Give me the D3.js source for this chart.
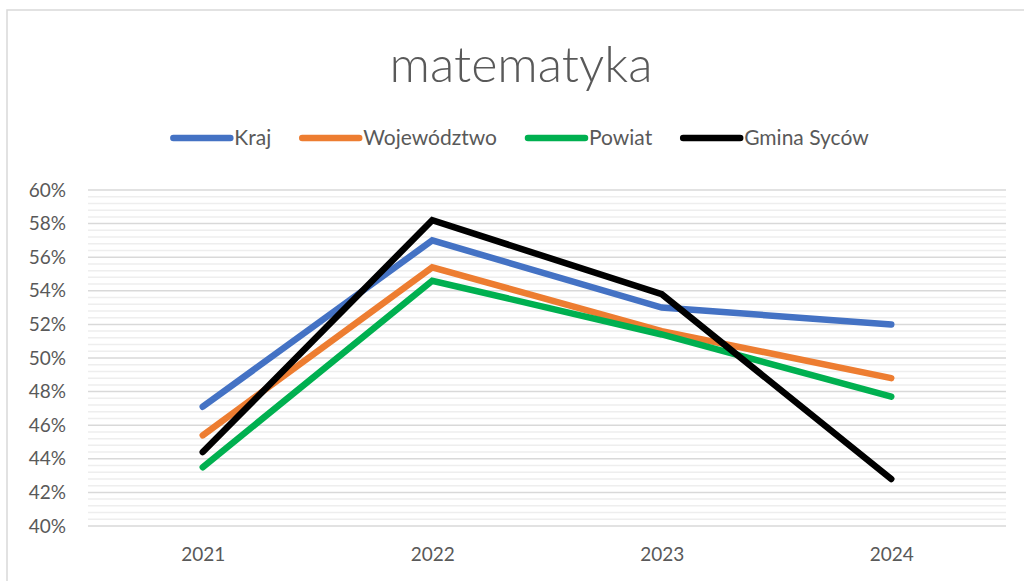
<!DOCTYPE html>
<html>
<head>
<meta charset="utf-8">
<script src="https://cdn.jsdelivr.net/npm/d3@7"></script>
<style>
  html, body { margin: 0; padding: 0; background: #fff; }
  svg { display: block; }
  text { font-family: Lato, "Open Sans", sans-serif; fill: #595959; }
</style>
</head>
<body>
<svg id="chart" width="1024" height="581"></svg>
<script>
// chart data
var years = ["2021", "2022", "2023", "2024"];
var seriesNames = ["Kraj", "Województwo", "Powiat", "Gmina Syców"];
var seriesColors = ["#4472C4", "#ED7D31", "#00B050", "#000000"];
var kraj = [0.471, 0.570, 0.530, 0.520];
var wojewodztwo = [0.454, 0.554, 0.516, 0.488];
var powiat = [0.435, 0.546, 0.514, 0.477];
var gmina = [0.444, 0.582, 0.538, 0.428];
var yTicks = [0.40, 0.42, 0.44, 0.46, 0.48, 0.50, 0.52, 0.54, 0.56, 0.58, 0.60];

var series = [kraj, wojewodztwo, powiat, gmina].map(function(v, i) {
    return { name: seriesNames[i], color: seriesColors[i], values: v };
});

var svg = d3.select("#chart");
var m = { top: 190, right: 18, bottom: 55, left: 88 };
var W = 1024, H = 581;

// outer chart frame (only top and left edges are visible)
svg.append("path")
    .attr("d", "M7," + H + "V10H" + W)
    .attr("fill", "none")
    .attr("stroke", "#d9d9d9")
    .attr("stroke-width", 1.5);

var x = d3.scalePoint().domain(years).range([m.left, W - m.right]).padding(0.5);
var y = d3.scaleLinear().domain([0.40, 0.60]).range([H - m.bottom, m.top]);

// minor grid
var minor = d3.range(0, 51).map(function(i) { return 0.40 + i * 0.004; })
    .filter(function(v) { return Math.round(v * 1000) % 20 !== 0; });
svg.append("g").selectAll("line").data(minor).enter().append("line")
    .attr("x1", m.left).attr("x2", W - m.right)
    .attr("y1", function(d) { return y(d); }).attr("y2", function(d) { return y(d); })
    .attr("stroke", "#eeeeee").attr("stroke-width", 1.5);

// major grid
svg.append("g").selectAll("line").data(yTicks).enter().append("line")
    .attr("x1", m.left).attr("x2", W - m.right)
    .attr("y1", function(d) { return y(d); }).attr("y2", function(d) { return y(d); })
    .attr("stroke", "#d9d9d9").attr("stroke-width", 1.5);

// y axis
var yAxis = svg.append("g").attr("transform", "translate(66,0)")
    .call(d3.axisLeft(y).tickValues(yTicks).tickFormat(d3.format(".0%")).tickSize(0).tickPadding(0));
yAxis.select(".domain").remove();
yAxis.selectAll("text").attr("font-size", 19).attr("font-family", "Lato, sans-serif").attr("fill", "#595959");

// x axis
var xAxis = svg.append("g").attr("transform", "translate(0," + (H - m.bottom) + ")")
    .call(d3.axisBottom(x).tickSize(0).tickPadding(0));
xAxis.select(".domain").remove();
xAxis.selectAll("text").attr("font-size", 19).attr("font-family", "Lato, sans-serif")
    .attr("fill", "#595959").attr("dy", "1.85em");

// lines
var line = d3.line()
    .x(function(d, i) { return x(years[i]); })
    .y(function(d) { return y(d); });

svg.append("g").selectAll("path").data(series).enter().append("path")
    .attr("d", function(d) { return line(d.values); })
    .attr("fill", "none")
    .attr("stroke", function(d) { return d.color; })
    .attr("stroke-width", 6.5)
    .attr("stroke-linecap", "round")
    .attr("stroke-linejoin", "miter");

// title
svg.append("text")
    .attr("x", 521).attr("y", 82)
    .attr("text-anchor", "middle")
    .attr("font-size", 50)
    .attr("font-weight", 300)
    .attr("textLength", 263)
    .attr("lengthAdjust", "spacingAndGlyphs")
    .text("matematyka");

// legend
var leg = svg.append("g");
var items = leg.selectAll("g").data(series).enter().append("g");
items.append("line")
    .attr("x1", 0).attr("x2", 57).attr("y1", 0).attr("y2", 0)
    .attr("stroke", function(d) { return d.color; })
    .attr("stroke-width", 6.5)
    .attr("stroke-linecap", "round");
items.append("text")
    .attr("x", 61).attr("dy", "0.35em")
    .attr("font-size", 21)
    .text(function(d) { return d.name; });

var pos = 0, offs = [];
items.each(function(d, i) {
    var w = d3.select(this).select("text").node().getComputedTextLength();
    offs.push(pos);
    pos += 61 + w + 31;
});
var total = pos - 31;
var start = 521 - total / 2;
items.attr("transform", function(d, i) { return "translate(" + (start + offs[i]) + ",138)"; });
</script>
</body>
</html>
